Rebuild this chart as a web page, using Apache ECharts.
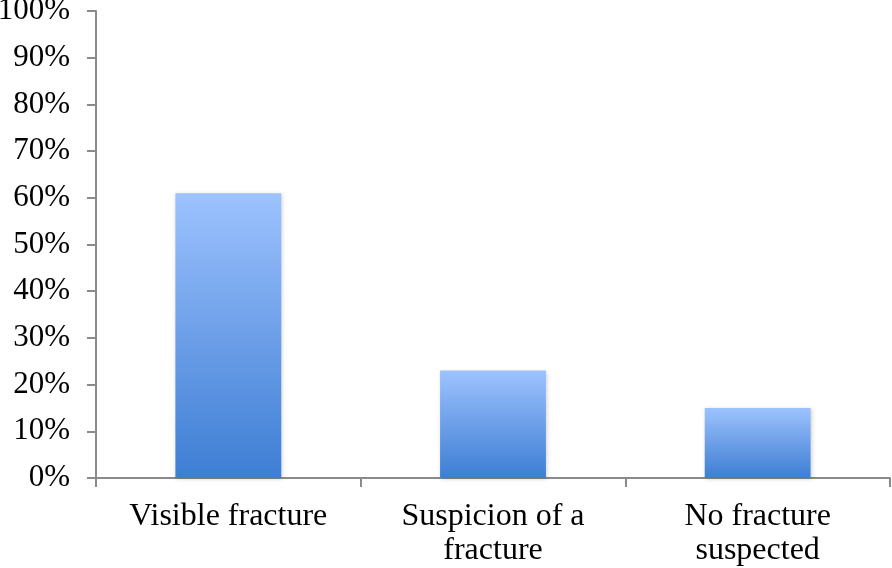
<!DOCTYPE html>
<html><head><meta charset="utf-8">
<script src="https://cdn.jsdelivr.net/npm/echarts@6/dist/echarts.min.js"></script>
<style>html,body{margin:0;padding:0;background:#fff}#c{width:892px;height:568px}</style>
</head><body><div id="c"></div>
<script>
const categories = ['Visible fracture', 'Suspicion of a\nfracture', 'No fracture\nsuspected'];
const values = [61, 23, 15];
const yTicks = [0, 10, 20, 30, 40, 50, 60, 70, 80, 90, 100];

const chart = echarts.init(document.getElementById('c'), null, {renderer: 'canvas'});
const axisColor = '#8a8a8a';
chart.setOption({
  animation: false,
  grid: {left: 96, right: 2, top: 11, bottom: 90, containLabel: false, outerBoundsMode: 'none'},
  xAxis: {
    type: 'category', data: categories,
    axisLine: {lineStyle: {color: axisColor, width: 2}},
    axisTick: {show: true, alignWithLabel: false, length: 9, lineStyle: {color: axisColor, width: 2}},
    axisLabel: {fontFamily: 'Liberation Serif', fontSize: 32, color: '#000', margin: 22, lineHeight: 34, interval: 0}
  },
  yAxis: {
    type: 'value', min: 0, max: 100, interval: 10,
    splitLine: {show: false},
    axisLine: {show: true, lineStyle: {color: axisColor, width: 2}},
    axisTick: {show: true, length: 9, lineStyle: {color: axisColor, width: 2}},
    axisLabel: {fontFamily: 'Liberation Serif', fontSize: 31, color: '#000', margin: 26,
      formatter: v => yTicks.includes(v) ? v + '%' : ''}
  },
  series: [{
    type: 'bar', data: values, barWidth: '40%',
    itemStyle: {
      color: new echarts.graphic.LinearGradient(0, 0, 0, 1, [
        {offset: 0, color: '#9dc3ff'},
        {offset: 0.5, color: '#6d9fe8'},
        {offset: 1, color: '#3d7ed4'}
      ]),
      shadowColor: 'rgba(0,0,0,0.18)', shadowBlur: 4, shadowOffsetX: 1, shadowOffsetY: 1
    }
  }]
});
</script></body></html>
